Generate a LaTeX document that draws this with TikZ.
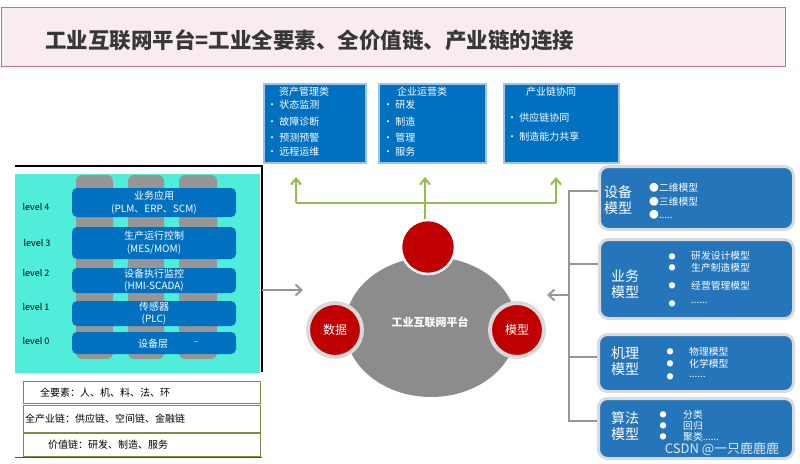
\documentclass[tikz,border=0pt]{standalone}
\usepackage{fontspec}
\setmainfont{Noto Sans CJK SC}
\usetikzlibrary{shapes.geometric,arrows.meta}
\definecolor{titlebg}{RGB}{248,236,238}
\definecolor{titleborder}{RGB}{196,118,118}
\definecolor{titletext}{RGB}{55,55,55}
\definecolor{darkblue}{RGB}{0,112,192}
\definecolor{lightblue}{RGB}{157,195,230}
\definecolor{midblue}{RGB}{36,117,186}
\definecolor{boxgray}{RGB}{218,218,218}
\definecolor{cyanbg}{RGB}{80,238,218}
\definecolor{pillar}{RGB}{150,150,150}
\definecolor{olive}{RGB}{122,140,72}
\definecolor{garrowc}{RGB}{146,190,80}
\definecolor{platgray}{RGB}{140,140,140}
\definecolor{redc}{RGB}{192,0,0}
\tikzset{
  topbox/.style={draw=lightblue, line width=2.5pt, fill=darkblue, anchor=north west, inner sep=0pt},
  toptxt/.style={text=white, font=\fontsize{10}{11}\selectfont, inner sep=0pt},
  barbox/.style={fill=darkblue, rounded corners=5pt, minimum width=164pt, inner sep=0pt, text=white, align=center, font=\fontsize{10}{12.5}\selectfont},
  lvl/.style={font=\fontsize{9}{10}\selectfont, inner sep=0pt},
  botbox/.style={draw=olive, line width=1.3pt, anchor=north west, inner sep=0pt},
  bottxt/.style={anchor=west, font=\fontsize{10}{11}\selectfont, inner sep=0pt},
  rbox/.style={fill=midblue, draw=boxgray, line width=3pt, rounded corners=9pt, anchor=north west, inner sep=0pt},
  rlabel/.style={anchor=west, text=white, align=left, font=\fontsize{14}{16}\selectfont, inner sep=0pt},
  ritem/.style={anchor=west, text=white, font=\fontsize{9.8}{10}\selectfont, inner sep=0pt},
  rdot/.style={text=white, font=\fontsize{7}{8}\selectfont, inner sep=0pt},
  redcirc/.style={circle, fill=redc, minimum size=54pt, inner sep=0pt, text=white, font=\fontsize{12}{14}\selectfont},
  garrow/.style={draw=garrowc, line width=2pt, -{Straight Barb[length=6pt,width=10pt,line width=2pt]}},
  gline/.style={draw=garrowc, line width=2pt},
  grayarrow/.style={draw=pillar, line width=2pt, -{Straight Barb[length=6pt,width=11pt,line width=2pt]}},
}
\begin{document}
\begin{tikzpicture}[x=1pt,y=-1pt]
\useasboundingbox (0,0) rectangle (800,463);
% title
\node[draw=titleborder, fill=titlebg, line width=1.3pt, minimum width=784pt, minimum height=59pt, anchor=north west, inner sep=0pt] (title) at (0.6,7) {};
\node[anchor=west, font=\bfseries\fontsize{21.5}{22}\selectfont, text=titletext, inner sep=0pt] (titletxt) at (45,40) {工业互联网平台=工业全要素、全价值链、产业链的连接};

% top boxes
\node[topbox, minimum width=102pt, minimum height=79pt] (b1) at (262.5,82.5) {};
\node[topbox, minimum width=107pt, minimum height=79pt] (b2) at (377.5,82.5) {};
\node[topbox, minimum width=115pt, minimum height=79pt] (b3) at (502.5,82.5) {};
\node[toptxt] (b1t) at (304,92) {资产管理类};
\node[toptxt, anchor=west] (b1a) at (267,105) {• 状态监测};
\node[toptxt, anchor=west] (b1b) at (267,122) {• 故障诊断};
\node[toptxt, anchor=west] (b1c) at (267,138) {• 预测预警};
\node[toptxt, anchor=west] (b1d) at (267,152) {• 远程运维};
\node[toptxt] (b2t) at (422,92) {企业运营类};
\node[toptxt, anchor=west] (b2a) at (383,105) {• 研发};
\node[toptxt, anchor=west] (b2b) at (383,122) {• 制造};
\node[toptxt, anchor=west] (b2c) at (383,138) {• 管理};
\node[toptxt, anchor=west] (b2d) at (383,152) {• 服务};
\node[toptxt] (b3t) at (551,92) {产业链协同};
\node[toptxt, anchor=west] (b3a) at (507,118) {• 供应链协同};
\node[toptxt, anchor=west] (b3b) at (507,137) {• 制造能力共享};

% left panel
\fill[cyanbg] (15,174) rectangle (260,373);
\draw[black, line width=1.3pt] (15,166) -- (262,166) -- (262,372);
\fill[pillar, rounded corners=6pt] (76,175) rectangle (113,359);
\fill[pillar, rounded corners=6pt] (128,175) rectangle (164,359);
\fill[pillar, rounded corners=6pt] (179,175) rectangle (217,359);
\node[barbox, minimum height=29pt] (l4) at (154,202.5) {业务应用\\(PLM、ERP、SCM)};
\node[barbox, minimum height=32pt] (l3) at (154,243) {生产运行控制\\(MES/MOM)};
\node[barbox, minimum height=25pt] (l2) at (154,280.5) {设备执行监控\\(HMI-SCADA)};
\node[barbox, minimum height=25pt] (l1) at (154,313.5) {传感器\\(PLC)};
\node[barbox, minimum height=22pt] (l0) at (154,343) {};
\node[text=white, font=\fontsize{10}{12}\selectfont, inner sep=0pt] (l0t) at (153,344) {设备层};
\node[text=white, font=\fontsize{8}{9}\selectfont, inner sep=0pt] (l0d) at (196,343) {–};
\node[lvl] (lv4) at (36,207) {level 4};
\node[lvl] (lv3) at (37,243) {level 3};
\node[lvl] (lv2) at (36,273) {level 2};
\node[lvl] (lv1) at (36,307) {level 1};
\node[lvl] (lv0) at (36,341) {level 0};

% bottom-left boxes
\node[botbox, minimum width=237pt, minimum height=22pt] (ba) at (23,381) {};
\node[botbox, minimum width=237pt, minimum height=27pt] (bb) at (23,405) {};
\node[botbox, minimum width=237pt, minimum height=23pt] (bc) at (23,433) {};
\node[bottxt] (bat) at (40,393) {全要素：人、机、料、法、环};
\node[bottxt] (bbt) at (25,419) {全产业链：供应链、空间链、金融链};
\node[bottxt] (bct) at (48,445) {价值链：研发、制造、服务};
\draw[black!70, line width=1pt] (15,457.5) -- (262,457.5);

% platform
\node[ellipse, fill=platgray, minimum width=172pt, minimum height=140pt, inner sep=0pt] (plat) at (431,327) {};
\node[text=white, font=\bfseries\fontsize{11}{12}\selectfont, inner sep=0pt] (platt) at (430,322) {工业互联网平台};
\node[redcirc, draw=white, line width=2.5pt] (ctop) at (428,247) {};
\node[redcirc, draw=boxgray, line width=4pt] (cdata) at (335,330) {数据};
\node[redcirc, draw=boxgray, line width=4pt] (cmodel) at (517,330) {模型};

% green arrows
\coordinate (ga) at (296,203);
\coordinate (gb) at (425,203);
\coordinate (gc) at (556,203);
\coordinate (ta) at (296,177);
\coordinate (tb) at (425,177);
\coordinate (tc) at (556,177);
\draw[gline] (ga) -- (gc);
\draw[garrow] (ga) -- (ta);
\draw[garrow] (gc) -- (tc);
\draw[garrow] (ctop.north -| gb) -- (tb);

% gray arrows
\coordinate (lpe) at (262,290);
\coordinate (lpt) at (303,290);
\draw[grayarrow] (lpe) -- (lpt);
\coordinate (rbe) at (569,295);
\coordinate (rbt) at (547,295);
\draw[grayarrow] (rbe) -- (rbt);

% right boxes
\node[rbox, minimum width=194pt, minimum height=63pt] (r1) at (598,165) {};
\node[rbox, minimum width=194pt, minimum height=79pt] (r2) at (598,238) {};
\node[rbox, minimum width=195pt, minimum height=57pt] (r3) at (597,333) {};
\node[rbox, minimum width=195pt, minimum height=60pt] (r4) at (597,397) {};

% bracket
\draw[pillar, line width=2.5pt] (r1.west |- 0,191) -- (569,191) -- (569,421) -- (r4.west |- 0,421);
\draw[pillar, line width=2.5pt] (569,264) -- (r2.west |- 0,264);
\draw[pillar, line width=2.5pt] (569,357) -- (r3.west |- 0,357);

% right box texts
\node[rlabel] (r1l) at (604,200) {设备\\模型};
\node[ritem] (r1a) at (649,188) {●二维模型};
\node[ritem] (r1b) at (649,202) {●三维模型};
\node[ritem] (r1c) at (649,215) {●.....};

\node[rlabel] (r2l) at (611,284) {业务\\模型};
\node[rdot] (r2d1) at (672,257) {●};
\node[rdot] (r2d2) at (672,268) {●};
\node[rdot] (r2d3) at (672,286) {●};
\node[rdot] (r2d4) at (672,304) {●};
\node[ritem] (r2a) at (691,256) {研发设计模型};
\node[ritem] (r2b) at (691,268) {生产制造模型};
\node[ritem] (r2c) at (691,286) {经营管理模型};
\node[ritem] (r2e) at (691,303) {......};

\node[rlabel] (r3l) at (611,361) {机理\\模型};
\node[rdot] (r3d1) at (670,352) {●};
\node[rdot] (r3d2) at (670,364) {●};
\node[rdot] (r3d3) at (670,377) {●};
\node[ritem] (r3a) at (689,352) {物理模型};
\node[ritem] (r3b) at (689,364) {化学模型};
\node[ritem] (r3c) at (689,377) {......};

\node[rlabel] (r4l) at (611,426) {算法\\模型};
\node[rdot] (r4d1) at (663,415) {●};
\node[rdot] (r4d2) at (663,426) {●};
\node[rdot] (r4d3) at (663,437) {●};
\node[ritem] (r4a) at (683,415) {分类};
\node[ritem] (r4b) at (683,426) {回归};
\node[ritem] (r4c) at (683,437) {聚类......};

% watermark
\node[text=white, opacity=0.85, font=\fontsize{13}{14}\selectfont, inner sep=0pt] (wm) at (722,449) {CSDN @一只鹿鹿鹿};
\end{tikzpicture}
\end{document}
